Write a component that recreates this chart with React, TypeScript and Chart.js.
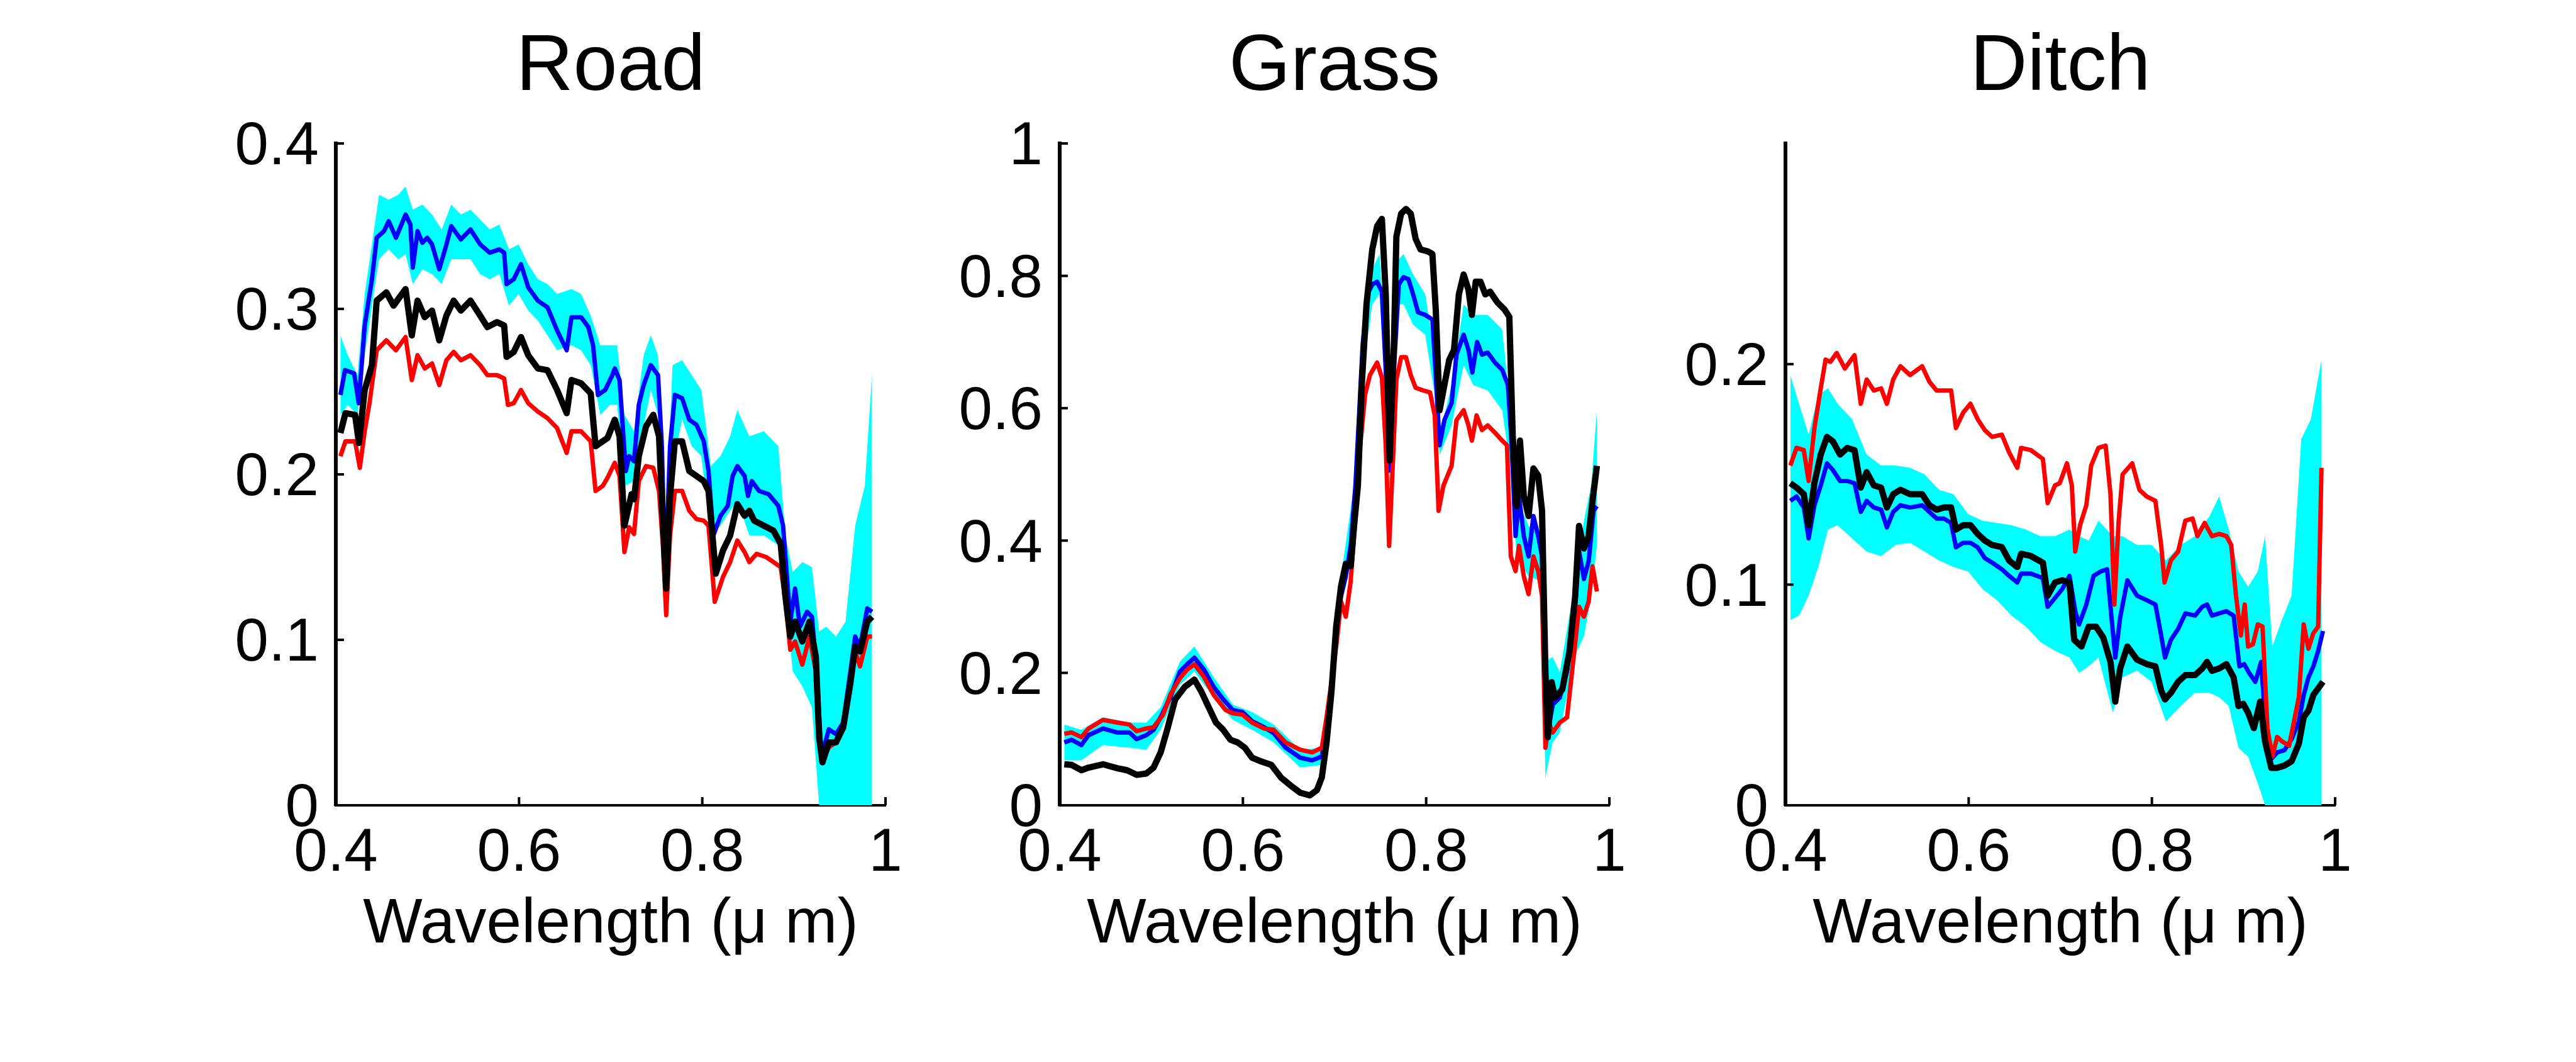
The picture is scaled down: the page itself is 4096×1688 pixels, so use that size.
import { useEffect, useRef } from "react";
import { Chart, registerables } from "chart.js";

Chart.register(...registerables);
Chart.defaults.font.family = "'Liberation Sans', Arial, Helvetica, sans-serif";
Chart.defaults.color = "#000";

// wavelength (um) -> reflectance
const roadBlue = [
  [0.405, 0.248], [0.41, 0.263], [0.42, 0.261], [0.425, 0.243], [0.4315, 0.29], [0.4394, 0.318],
  [0.4446, 0.343], [0.4525, 0.347], [0.4577, 0.353], [0.4656, 0.343], [0.4761, 0.357], [0.4814, 0.351],
  [0.484, 0.325], [0.4892, 0.347], [0.4945, 0.34], [0.4997, 0.343], [0.505, 0.339], [0.5129, 0.324],
  [0.5207, 0.339], [0.526, 0.35], [0.5365, 0.342], [0.547, 0.348], [0.5575, 0.339], [0.568, 0.334],
  [0.5785, 0.336], [0.5837, 0.334], [0.5864, 0.315], [0.5942, 0.318], [0.6021, 0.327], [0.61, 0.313],
  [0.6205, 0.305], [0.631, 0.301], [0.6415, 0.287], [0.652, 0.275], [0.6572, 0.295], [0.6677, 0.295],
  [0.6756, 0.289], [0.6808, 0.278], [0.6861, 0.248], [0.694, 0.251], [0.7018, 0.26], [0.7045, 0.264],
  [0.7097, 0.257], [0.7165, 0.202], [0.7202, 0.211], [0.7255, 0.208], [0.7307, 0.242], [0.736, 0.254],
  [0.7438, 0.266], [0.7517, 0.26], [0.7559, 0.217], [0.7596, 0.135], [0.7648, 0.217], [0.7701, 0.248],
  [0.778, 0.246], [0.7858, 0.233], [0.7937, 0.23], [0.8016, 0.22], [0.8068, 0.202], [0.8121, 0.163],
  [0.8199, 0.175], [0.8278, 0.181], [0.8331, 0.199], [0.8383, 0.205], [0.8462, 0.199], [0.8499, 0.187],
  [0.8541, 0.196], [0.8619, 0.19], [0.8724, 0.188], [0.883, 0.181], [0.8882, 0.169], [0.8924, 0.138],
  [0.8961, 0.111], [0.9013, 0.131], [0.9066, 0.108], [0.9144, 0.117], [0.9197, 0.114], [0.9249, 0.08],
  [0.9302, 0.029], [0.9381, 0.046], [0.9459, 0.043], [0.9538, 0.05], [0.9617, 0.081], [0.9669, 0.102],
  [0.9722, 0.096], [0.9801, 0.119], [0.9853, 0.117],
];
const roadBlack = [
  [0.405, 0.225], [0.4105, 0.237], [0.421, 0.236], [0.4252, 0.219], [0.4315, 0.251], [0.4394, 0.266],
  [0.4446, 0.305], [0.4551, 0.31], [0.463, 0.302], [0.4761, 0.312], [0.4829, 0.284], [0.4892, 0.305],
  [0.4971, 0.295], [0.505, 0.299], [0.5129, 0.281], [0.5207, 0.296], [0.5286, 0.305], [0.5365, 0.299],
  [0.547, 0.305], [0.5575, 0.296], [0.5654, 0.289], [0.5759, 0.292], [0.5837, 0.29], [0.5864, 0.271],
  [0.5942, 0.274], [0.6021, 0.283], [0.61, 0.272], [0.6205, 0.264], [0.631, 0.263], [0.6415, 0.251],
  [0.652, 0.237], [0.6572, 0.257], [0.6677, 0.255], [0.6782, 0.249], [0.6835, 0.217], [0.6913, 0.22],
  [0.6966, 0.222], [0.7045, 0.233], [0.7097, 0.223], [0.715, 0.169], [0.7228, 0.188], [0.7255, 0.185],
  [0.7307, 0.211], [0.7386, 0.229], [0.7465, 0.236], [0.7528, 0.223], [0.757, 0.172], [0.7606, 0.131],
  [0.7648, 0.187], [0.7701, 0.22], [0.778, 0.22], [0.7858, 0.202], [0.7937, 0.199], [0.8016, 0.196],
  [0.8068, 0.19], [0.8147, 0.14], [0.8226, 0.154], [0.8304, 0.163], [0.8383, 0.182], [0.8462, 0.175],
  [0.8514, 0.178], [0.8567, 0.172], [0.8672, 0.169], [0.8777, 0.166], [0.8856, 0.158], [0.8908, 0.126],
  [0.8961, 0.102], [0.9013, 0.111], [0.9092, 0.099], [0.9171, 0.111], [0.9239, 0.09], [0.9276, 0.041],
  [0.9312, 0.026], [0.9381, 0.038], [0.9459, 0.038], [0.9538, 0.047], [0.9617, 0.074], [0.9669, 0.096],
  [0.9722, 0.093], [0.9801, 0.111], [0.9853, 0.114],
];
const roadRed = [
  [0.405, 0.211], [0.4105, 0.22], [0.421, 0.22], [0.4262, 0.204], [0.4315, 0.226], [0.4367, 0.243],
  [0.4446, 0.275], [0.4551, 0.281], [0.4656, 0.275], [0.4761, 0.283], [0.4829, 0.257], [0.4892, 0.272],
  [0.4971, 0.264], [0.505, 0.267], [0.5129, 0.254], [0.5207, 0.269], [0.5286, 0.274], [0.5365, 0.269],
  [0.547, 0.272], [0.5575, 0.266], [0.5654, 0.26], [0.5759, 0.26], [0.5837, 0.258], [0.5879, 0.242],
  [0.5942, 0.243], [0.6021, 0.251], [0.61, 0.243], [0.6205, 0.238], [0.631, 0.234], [0.6415, 0.228],
  [0.652, 0.213], [0.6572, 0.226], [0.6677, 0.226], [0.6782, 0.22], [0.6835, 0.19], [0.6913, 0.193],
  [0.6966, 0.198], [0.7045, 0.207], [0.7097, 0.199], [0.715, 0.153], [0.7202, 0.168], [0.7255, 0.164],
  [0.7307, 0.196], [0.7386, 0.205], [0.7465, 0.204], [0.7528, 0.19], [0.757, 0.157], [0.7606, 0.115],
  [0.7648, 0.163], [0.7701, 0.19], [0.778, 0.19], [0.7858, 0.178], [0.7937, 0.173], [0.8016, 0.172],
  [0.8068, 0.169], [0.8136, 0.123], [0.8226, 0.138], [0.8304, 0.147], [0.8383, 0.16], [0.8462, 0.153],
  [0.8514, 0.147], [0.8593, 0.152], [0.8698, 0.15], [0.8777, 0.147], [0.8856, 0.144], [0.8908, 0.123],
  [0.8961, 0.094], [0.9013, 0.099], [0.9092, 0.085], [0.9171, 0.102], [0.9239, 0.081], [0.9302, 0.026],
  [0.9381, 0.035], [0.9459, 0.038], [0.9538, 0.046], [0.9617, 0.074], [0.9669, 0.093], [0.9722, 0.084],
  [0.9801, 0.102], [0.9853, 0.102],
];
// [wavelength, upper, lower] of the cyan spread
const roadBand = [
  [0.405, 0.284, 0.236], [0.4131, 0.272, 0.242], [0.4236, 0.26, 0.236], [0.4315, 0.309, 0.272],
  [0.4394, 0.339, 0.302], [0.4472, 0.369, 0.33], [0.4577, 0.366, 0.336], [0.4682, 0.369, 0.33],
  [0.4761, 0.374, 0.333], [0.484, 0.36, 0.315], [0.4945, 0.363, 0.324], [0.505, 0.357, 0.321],
  [0.5155, 0.348, 0.315], [0.526, 0.363, 0.33], [0.5365, 0.357, 0.33], [0.547, 0.36, 0.33],
  [0.5575, 0.354, 0.321], [0.568, 0.348, 0.318], [0.5785, 0.351, 0.321], [0.589, 0.336, 0.302],
  [0.5995, 0.339, 0.309], [0.61, 0.327, 0.299], [0.6205, 0.318, 0.293], [0.631, 0.315, 0.284],
  [0.6415, 0.309, 0.275], [0.6572, 0.312, 0.278], [0.6677, 0.309, 0.275], [0.6782, 0.296, 0.266],
  [0.6887, 0.278, 0.236], [0.6992, 0.278, 0.242], [0.7071, 0.278, 0.242], [0.715, 0.236, 0.193],
  [0.7255, 0.226, 0.196], [0.736, 0.272, 0.229], [0.7438, 0.284, 0.251], [0.7517, 0.272, 0.236],
  [0.7596, 0.157, 0.126], [0.7675, 0.266, 0.205], [0.778, 0.269, 0.233], [0.7885, 0.26, 0.217],
  [0.799, 0.251, 0.211], [0.8094, 0.205, 0.163], [0.8199, 0.211, 0.169], [0.8304, 0.223, 0.178],
  [0.8383, 0.239, 0.184], [0.8514, 0.223, 0.163], [0.8672, 0.226, 0.163], [0.883, 0.217, 0.157],
  [0.8908, 0.163, 0.126], [0.8987, 0.141, 0.081], [0.9092, 0.147, 0.072], [0.9197, 0.144, 0.059],
  [0.9276, 0.105, 0], [0.9354, 0.108, 0], [0.9459, 0.102, 0], [0.9564, 0.111, 0],
  [0.9669, 0.169, 0], [0.9774, 0.193, 0], [0.9853, 0.261, 0],
];

const grassBlack = [
  [0.405, 0.062], [0.4131, 0.061], [0.4236, 0.053], [0.4315, 0.057], [0.4472, 0.062], [0.463, 0.056],
  [0.4735, 0.053], [0.484, 0.046], [0.4945, 0.048], [0.5024, 0.057], [0.5102, 0.08], [0.5181, 0.118],
  [0.526, 0.16], [0.5365, 0.179], [0.547, 0.19], [0.5549, 0.171], [0.5627, 0.148], [0.5706, 0.125],
  [0.5785, 0.114], [0.5864, 0.099], [0.5942, 0.095], [0.6021, 0.087], [0.61, 0.072], [0.6205, 0.066],
  [0.631, 0.061], [0.6415, 0.042], [0.652, 0.03], [0.6625, 0.019], [0.673, 0.015], [0.6808, 0.023],
  [0.6861, 0.042], [0.6913, 0.095], [0.6966, 0.171], [0.7018, 0.27], [0.7071, 0.331], [0.7123, 0.365],
  [0.7176, 0.361], [0.7213, 0.422], [0.7255, 0.483], [0.7297, 0.635], [0.7349, 0.757], [0.7412, 0.84],
  [0.7465, 0.875], [0.7517, 0.886], [0.7559, 0.772], [0.7601, 0.521], [0.7648, 0.696], [0.7675, 0.859],
  [0.7727, 0.894], [0.778, 0.901], [0.7832, 0.894], [0.7885, 0.856], [0.7937, 0.84], [0.8016, 0.837],
  [0.8068, 0.833], [0.8105, 0.749], [0.8147, 0.597], [0.8199, 0.635], [0.8252, 0.673], [0.8304, 0.688],
  [0.8357, 0.772], [0.8409, 0.802], [0.8462, 0.779], [0.8499, 0.741], [0.8541, 0.791], [0.8593, 0.791],
  [0.8646, 0.772], [0.8698, 0.776], [0.8777, 0.76], [0.8856, 0.749], [0.8908, 0.738], [0.8945, 0.559],
  [0.8987, 0.452], [0.9024, 0.551], [0.9066, 0.468], [0.9118, 0.437], [0.9171, 0.509], [0.9223, 0.498],
  [0.9265, 0.445], [0.9302, 0.202], [0.9328, 0.103], [0.937, 0.186], [0.9407, 0.163], [0.9486, 0.175],
  [0.9564, 0.232], [0.9627, 0.316], [0.9669, 0.422], [0.9722, 0.388], [0.9774, 0.407], [0.9816, 0.46],
  [0.9864, 0.513],
];
const grassBlue = [
  [0.405, 0.095], [0.4131, 0.099], [0.4236, 0.091], [0.4315, 0.106], [0.4472, 0.116], [0.463, 0.11],
  [0.4761, 0.11], [0.484, 0.1], [0.4945, 0.106], [0.5024, 0.114], [0.5102, 0.133], [0.5207, 0.163],
  [0.5312, 0.202], [0.5391, 0.213], [0.547, 0.223], [0.5575, 0.205], [0.568, 0.179], [0.5785, 0.16],
  [0.589, 0.144], [0.5995, 0.141], [0.61, 0.127], [0.6231, 0.118], [0.6336, 0.109], [0.6467, 0.087],
  [0.6625, 0.072], [0.6756, 0.068], [0.6861, 0.074], [0.6913, 0.118], [0.6966, 0.179], [0.7018, 0.255],
  [0.7071, 0.316], [0.7123, 0.346], [0.7176, 0.392], [0.7228, 0.483], [0.7265, 0.582], [0.7307, 0.696],
  [0.736, 0.772], [0.7412, 0.787], [0.7465, 0.791], [0.7517, 0.776], [0.7559, 0.658], [0.7601, 0.506],
  [0.7648, 0.658], [0.7701, 0.787], [0.7753, 0.798], [0.7806, 0.795], [0.7858, 0.772], [0.7911, 0.745],
  [0.799, 0.741], [0.8068, 0.734], [0.8105, 0.65], [0.8147, 0.544], [0.8199, 0.582], [0.8278, 0.608],
  [0.8331, 0.681], [0.8409, 0.711], [0.8462, 0.688], [0.8504, 0.654], [0.8556, 0.7], [0.8609, 0.681],
  [0.8672, 0.684], [0.8751, 0.669], [0.883, 0.658], [0.8892, 0.635], [0.8934, 0.544], [0.8976, 0.407],
  [0.9013, 0.468], [0.9066, 0.407], [0.9118, 0.376], [0.9171, 0.437], [0.9223, 0.407], [0.9265, 0.376],
  [0.9302, 0.148], [0.9339, 0.118], [0.9381, 0.152], [0.9459, 0.163], [0.9538, 0.202], [0.9617, 0.285],
  [0.9669, 0.384], [0.9722, 0.342], [0.9774, 0.369], [0.9827, 0.445], [0.9864, 0.452],
];
const grassRed = [
  [0.405, 0.108], [0.4131, 0.11], [0.4236, 0.103], [0.4315, 0.116], [0.4472, 0.129], [0.463, 0.125],
  [0.4761, 0.122], [0.484, 0.112], [0.4945, 0.116], [0.5024, 0.118], [0.5129, 0.137], [0.5207, 0.167],
  [0.5312, 0.192], [0.5391, 0.205], [0.547, 0.213], [0.5575, 0.194], [0.568, 0.167], [0.5811, 0.144],
  [0.589, 0.139], [0.5995, 0.137], [0.61, 0.125], [0.6231, 0.116], [0.6336, 0.114], [0.6467, 0.095],
  [0.6625, 0.084], [0.6756, 0.08], [0.6861, 0.087], [0.6913, 0.133], [0.6966, 0.186], [0.7018, 0.24],
  [0.7071, 0.308], [0.7123, 0.285], [0.7176, 0.338], [0.7228, 0.437], [0.7281, 0.544], [0.7333, 0.62],
  [0.7386, 0.65], [0.7465, 0.669], [0.7517, 0.646], [0.7559, 0.544], [0.7596, 0.392], [0.7633, 0.506],
  [0.7675, 0.643], [0.7727, 0.677], [0.778, 0.677], [0.7832, 0.65], [0.7885, 0.631], [0.7963, 0.627],
  [0.8042, 0.624], [0.8094, 0.589], [0.8136, 0.445], [0.8189, 0.483], [0.8278, 0.513], [0.8331, 0.582],
  [0.8409, 0.597], [0.8462, 0.574], [0.8499, 0.551], [0.8551, 0.589], [0.8609, 0.567], [0.8672, 0.574],
  [0.8751, 0.563], [0.883, 0.551], [0.8882, 0.544], [0.8924, 0.376], [0.8976, 0.354], [0.9013, 0.392],
  [0.9066, 0.346], [0.9118, 0.319], [0.9171, 0.376], [0.9223, 0.354], [0.9265, 0.316], [0.9302, 0.087],
  [0.9339, 0.125], [0.9381, 0.11], [0.9459, 0.125], [0.9538, 0.133], [0.9617, 0.232], [0.9669, 0.3],
  [0.9722, 0.285], [0.9774, 0.308], [0.9816, 0.361], [0.9864, 0.323],
];
const grassBand = [
  [0.405, 0.122, 0.068], [0.4236, 0.114, 0.068], [0.4472, 0.133, 0.091], [0.4761, 0.125, 0.087],
  [0.4945, 0.125, 0.084], [0.5102, 0.148, 0.114], [0.5312, 0.217, 0.182], [0.547, 0.24, 0.202],
  [0.568, 0.194, 0.163], [0.589, 0.152, 0.129], [0.61, 0.141, 0.114], [0.6336, 0.122, 0.095],
  [0.6625, 0.084, 0.057], [0.6861, 0.087, 0.061], [0.6966, 0.194, 0.163], [0.7071, 0.346, 0.3],
  [0.7228, 0.498, 0.452], [0.7307, 0.719, 0.65], [0.7412, 0.81, 0.757], [0.749, 0.833, 0.772],
  [0.7559, 0.696, 0.62], [0.7601, 0.521, 0.483], [0.7701, 0.825, 0.757], [0.7753, 0.833, 0.757],
  [0.7858, 0.802, 0.726], [0.799, 0.772, 0.711], [0.8094, 0.681, 0.62], [0.8147, 0.559, 0.529],
  [0.8278, 0.635, 0.574], [0.8409, 0.757, 0.665], [0.8514, 0.741, 0.635], [0.8672, 0.741, 0.627],
  [0.883, 0.719, 0.597], [0.8934, 0.582, 0.498], [0.8987, 0.468, 0.376], [0.9118, 0.422, 0.346],
  [0.9265, 0.407, 0.338], [0.9302, 0.217, 0.042], [0.9381, 0.224, 0.095], [0.9459, 0.201, 0.11],
  [0.9617, 0.331, 0.224], [0.9722, 0.43, 0.255], [0.9801, 0.483, 0.316], [0.9864, 0.597, 0.392],
];

const ditchRed = [
  [0.4053, 0.154], [0.4121, 0.162], [0.42, 0.161], [0.4253, 0.147], [0.4316, 0.171], [0.4385, 0.189],
  [0.4438, 0.202], [0.449, 0.201], [0.4559, 0.205], [0.4648, 0.198], [0.4754, 0.204], [0.4822, 0.182],
  [0.4886, 0.193], [0.4965, 0.188], [0.5044, 0.189], [0.5107, 0.182], [0.5176, 0.193], [0.5255, 0.199],
  [0.536, 0.195], [0.5492, 0.199], [0.5571, 0.192], [0.565, 0.188], [0.5729, 0.188], [0.5808, 0.188],
  [0.5861, 0.171], [0.594, 0.178], [0.6019, 0.182], [0.6098, 0.175], [0.6177, 0.17], [0.6256, 0.167],
  [0.6362, 0.168], [0.6441, 0.16], [0.653, 0.153], [0.6572, 0.162], [0.6678, 0.161], [0.681, 0.157],
  [0.6862, 0.137], [0.6942, 0.145], [0.6994, 0.146], [0.7073, 0.155], [0.7126, 0.145], [0.7163, 0.115],
  [0.7216, 0.127], [0.7284, 0.136], [0.7337, 0.154], [0.7416, 0.162], [0.7495, 0.163], [0.7548, 0.141],
  [0.759, 0.091], [0.7637, 0.129], [0.768, 0.15], [0.7785, 0.155], [0.7864, 0.143], [0.7943, 0.14],
  [0.8038, 0.138], [0.8101, 0.118], [0.8138, 0.101], [0.8207, 0.111], [0.8286, 0.115], [0.8365, 0.129],
  [0.8444, 0.13], [0.8497, 0.122], [0.8576, 0.128], [0.8655, 0.122], [0.8734, 0.123], [0.8813, 0.122],
  [0.8866, 0.118], [0.8918, 0.095], [0.8971, 0.077], [0.9013, 0.091], [0.905, 0.072], [0.9103, 0.073],
  [0.9156, 0.082], [0.9208, 0.081], [0.9261, 0.035], [0.9314, 0.022], [0.9367, 0.031], [0.9419, 0.029],
  [0.9498, 0.027], [0.9551, 0.038], [0.9604, 0.049], [0.9657, 0.082], [0.9709, 0.071], [0.9762, 0.078],
  [0.9815, 0.081], [0.9851, 0.153],
];
const ditchBlack = [
  [0.4053, 0.146], [0.4121, 0.144], [0.42, 0.141], [0.4253, 0.127], [0.4316, 0.146], [0.4385, 0.159],
  [0.4453, 0.167], [0.4517, 0.165], [0.4596, 0.159], [0.4675, 0.162], [0.4754, 0.161], [0.4822, 0.144],
  [0.4886, 0.151], [0.4965, 0.145], [0.5044, 0.144], [0.5107, 0.135], [0.5176, 0.141], [0.5255, 0.143],
  [0.536, 0.141], [0.5492, 0.141], [0.5571, 0.136], [0.565, 0.134], [0.5729, 0.135], [0.5808, 0.135],
  [0.5861, 0.125], [0.594, 0.127], [0.6019, 0.127], [0.6098, 0.123], [0.6177, 0.12], [0.6256, 0.118],
  [0.6362, 0.117], [0.6441, 0.111], [0.653, 0.108], [0.6572, 0.114], [0.6678, 0.113], [0.681, 0.11],
  [0.6862, 0.095], [0.6942, 0.101], [0.7021, 0.102], [0.71, 0.101], [0.7152, 0.075], [0.7231, 0.072],
  [0.731, 0.081], [0.739, 0.081], [0.7469, 0.076], [0.7548, 0.065], [0.76, 0.047], [0.7653, 0.062],
  [0.7732, 0.072], [0.7838, 0.066], [0.7943, 0.064], [0.8038, 0.063], [0.8101, 0.052], [0.8143, 0.048],
  [0.8207, 0.051], [0.8286, 0.056], [0.8365, 0.059], [0.847, 0.059], [0.8549, 0.062], [0.8602, 0.065],
  [0.8655, 0.061], [0.8734, 0.062], [0.8813, 0.064], [0.8892, 0.058], [0.8945, 0.045], [0.8997, 0.046],
  [0.905, 0.042], [0.9113, 0.035], [0.9182, 0.047], [0.9235, 0.029], [0.9303, 0.017], [0.9367, 0.017],
  [0.9446, 0.018], [0.9525, 0.02], [0.9604, 0.028], [0.9657, 0.04], [0.9709, 0.043], [0.9762, 0.05],
  [0.9815, 0.053], [0.9867, 0.056],
];
const ditchBlue = [
  [0.4053, 0.138], [0.4121, 0.14], [0.42, 0.135], [0.4253, 0.121], [0.4316, 0.136], [0.4385, 0.145],
  [0.4453, 0.155], [0.4517, 0.152], [0.4596, 0.147], [0.4675, 0.147], [0.4754, 0.146], [0.4822, 0.133],
  [0.4886, 0.138], [0.4965, 0.135], [0.5044, 0.134], [0.5107, 0.126], [0.5176, 0.133], [0.5255, 0.136],
  [0.536, 0.135], [0.5492, 0.136], [0.5571, 0.133], [0.565, 0.13], [0.5729, 0.13], [0.5808, 0.128],
  [0.5861, 0.117], [0.594, 0.119], [0.6019, 0.119], [0.6098, 0.117], [0.6177, 0.112], [0.6256, 0.11],
  [0.6362, 0.107], [0.6441, 0.104], [0.653, 0.101], [0.6572, 0.105], [0.6678, 0.105], [0.681, 0.103],
  [0.6862, 0.09], [0.6942, 0.094], [0.7021, 0.098], [0.71, 0.104], [0.7163, 0.088], [0.7205, 0.082],
  [0.7284, 0.091], [0.7363, 0.104], [0.7442, 0.106], [0.7511, 0.107], [0.7548, 0.09], [0.76, 0.067],
  [0.7653, 0.085], [0.7732, 0.102], [0.7838, 0.095], [0.7943, 0.093], [0.8038, 0.091], [0.8101, 0.077],
  [0.8143, 0.067], [0.8207, 0.075], [0.8286, 0.08], [0.8365, 0.087], [0.847, 0.086], [0.8549, 0.09],
  [0.8602, 0.091], [0.8655, 0.086], [0.8734, 0.087], [0.8813, 0.088], [0.8892, 0.086], [0.8955, 0.063],
  [0.9008, 0.064], [0.9061, 0.06], [0.9129, 0.056], [0.9192, 0.065], [0.9235, 0.04], [0.9303, 0.021],
  [0.9367, 0.024], [0.9446, 0.025], [0.9525, 0.03], [0.9604, 0.038], [0.9657, 0.05], [0.9709, 0.058],
  [0.9762, 0.063], [0.9815, 0.07], [0.9867, 0.079],
];
const ditchBand = [
  [0.4053, 0.195, 0.084], [0.4148, 0.182, 0.086], [0.4253, 0.168, 0.095], [0.4358, 0.186, 0.108],
  [0.4464, 0.189, 0.125], [0.4569, 0.182, 0.127], [0.4727, 0.175, 0.121], [0.4886, 0.159, 0.115],
  [0.5044, 0.154, 0.113], [0.5202, 0.154, 0.118], [0.536, 0.153, 0.119], [0.5518, 0.15, 0.115],
  [0.5676, 0.143, 0.111], [0.5834, 0.141, 0.108], [0.5993, 0.132, 0.106], [0.6151, 0.129, 0.098],
  [0.6309, 0.128, 0.093], [0.6467, 0.127, 0.086], [0.6625, 0.125, 0.081], [0.6783, 0.122, 0.074],
  [0.6942, 0.122, 0.07], [0.71, 0.125, 0.067], [0.7205, 0.122, 0.06], [0.731, 0.12, 0.063],
  [0.7416, 0.129, 0.067], [0.7574, 0.122, 0.042], [0.768, 0.122, 0.058], [0.7838, 0.118, 0.061],
  [0.7996, 0.118, 0.056], [0.8154, 0.111, 0.038], [0.8312, 0.118, 0.045], [0.847, 0.122, 0.051],
  [0.8628, 0.131, 0.051], [0.8734, 0.14, 0.049], [0.8839, 0.125, 0.045], [0.8945, 0.106, 0.026],
  [0.905, 0.099, 0.022], [0.9156, 0.106, 0.01], [0.9235, 0.122, 0], [0.9314, 0.072, 0],
  [0.9419, 0.084, 0], [0.9525, 0.095, 0], [0.963, 0.166, 0], [0.9735, 0.175, 0], [0.9851, 0.202, 0],
];

const xTicks = [0.4, 0.6, 0.8, 1];
const roadTicks = [0, 0.1, 0.2, 0.3, 0.4];
const grassTicks = [0, 0.2, 0.4, 0.6, 0.8, 1];
const ditchTicks = [0, 0.1, 0.2];

const PLOT_W = 874;
const SIDE = 260;
const AXIS_H = 408;

const pts = (arr: number[][], i = 1) => arr.map((p) => ({ x: p[0], y: p[i] }));

// MATLAB style ticks pointing into the axes
const inwardTicks = {
  id: "inwardTicks",
  afterDraw(chart: any) {
    const { ctx, chartArea, scales } = chart;
    ctx.save();
    ctx.strokeStyle = "#000";
    ctx.lineWidth = 4;
    ctx.beginPath();
    scales.x.ticks.forEach((t: any) => {
      const px = scales.x.getPixelForValue(t.value);
      ctx.moveTo(px, chartArea.bottom);
      ctx.lineTo(px, chartArea.bottom - 13);
    });
    scales.y.ticks.forEach((t: any) => {
      const py = scales.y.getPixelForValue(t.value);
      ctx.moveTo(chartArea.left, py);
      ctx.lineTo(chartArea.left + 13, py);
    });
    ctx.stroke();
    ctx.restore();
  },
};

const line = (data: number[][], color: string, width: number) => ({
  data: pts(data),
  borderColor: color,
  borderWidth: width,
  pointRadius: 0,
  tension: 0,
  borderJoinStyle: "round",
  fill: false,
});

const Panel = ({ left, title, yMax, yTicks, band, blue, red, black }: any) => {
  const ref = useRef<HTMLCanvasElement>(null);

  useEffect(() => {
    const chart = new Chart(ref.current!, {
      type: "line",
      data: {
        datasets: [
          line(black, "#000000", 10),
          line(red, "#ff0000", 7),
          line(blue, "#0000ff", 7),
          {
            data: pts(band, 1),
            borderWidth: 0,
            borderColor: "rgba(0,0,0,0)",
            backgroundColor: "#00ffff",
            pointRadius: 0,
            tension: 0,
            fill: "+1",
          },
          {
            data: pts(band, 2),
            borderWidth: 0,
            borderColor: "rgba(0,0,0,0)",
            pointRadius: 0,
            tension: 0,
            fill: false,
          },
        ] as any,
      },
      options: {
        animation: false,
        responsive: false,
        devicePixelRatio: 1,
        layout: { padding: { left: 0, right: SIDE, top: 0, bottom: 0 } },
        plugins: {
          legend: { display: false },
          tooltip: { enabled: false },
          title: {
            display: true,
            fullSize: false,
            text: title,
            color: "#000",
            font: { size: 126, weight: "normal", lineHeight: 1 },
            padding: { top: 45, bottom: 57 },
          },
        },
        scales: {
          x: {
            type: "linear",
            min: 0.4,
            max: 1,
            grid: { display: false, drawTicks: false },
            border: { display: true, color: "#000", width: 4 },
            afterBuildTicks: (s: any) => {
              s.ticks = xTicks.map((v) => ({ value: v }));
            },
            afterFit: (s: any) => {
              s.height = AXIS_H;
            },
            ticks: {
              padding: 30,
              maxRotation: 0,
              minRotation: 0,
              autoSkip: false,
              color: "#000",
              font: { size: 96, lineHeight: 1 },
              callback: (v: any) => String(v),
            },
            title: {
              display: true,
              text: "Wavelength (\u03bc m)",
              color: "#000",
              font: { size: 100, lineHeight: 1 },
              padding: { top: 0, bottom: 168 },
            },
          },
          y: {
            type: "linear",
            min: 0,
            max: yMax,
            grid: { display: false, drawTicks: false },
            border: { display: true, color: "#000", width: 6 },
            afterBuildTicks: (s: any) => {
              s.ticks = yTicks.map((v: number) => ({ value: v }));
            },
            afterFit: (s: any) => {
              s.width = SIDE;
            },
            ticks: {
              padding: 27,
              labelOffset: 7,
              color: "#000",
              font: { size: 96, lineHeight: 1 },
              callback: (v: any) => String(v),
            },
          },
        },
      },
      plugins: [inwardTicks],
    });

    return () => {
      chart.destroy();
    };
  }, []);

  return (
    <canvas
      ref={ref}
      width={PLOT_W + 2 * SIDE}
      height={1688}
      style={{ position: "absolute", left: left - SIDE, top: 0, width: PLOT_W + 2 * SIDE, height: 1688 }}
    />
  );
};

export default function App() {
  return (
    <div style={{ position: "absolute", left: 0, top: 0, width: 4096, height: 1688, background: "#fff", overflow: "hidden" }}>
      <Panel left={534} title="Road" yMax={0.4} yTicks={roadTicks} band={roadBand} blue={roadBlue} red={roadRed} black={roadBlack} />
      <Panel left={1685} title="Grass" yMax={1} yTicks={grassTicks} band={grassBand} blue={grassBlue} red={grassRed} black={grassBlack} />
      <Panel left={2839} title="Ditch" yMax={0.3} yTicks={ditchTicks} band={ditchBand} blue={ditchBlue} red={ditchRed} black={ditchBlack} />
    </div>
  );
}
